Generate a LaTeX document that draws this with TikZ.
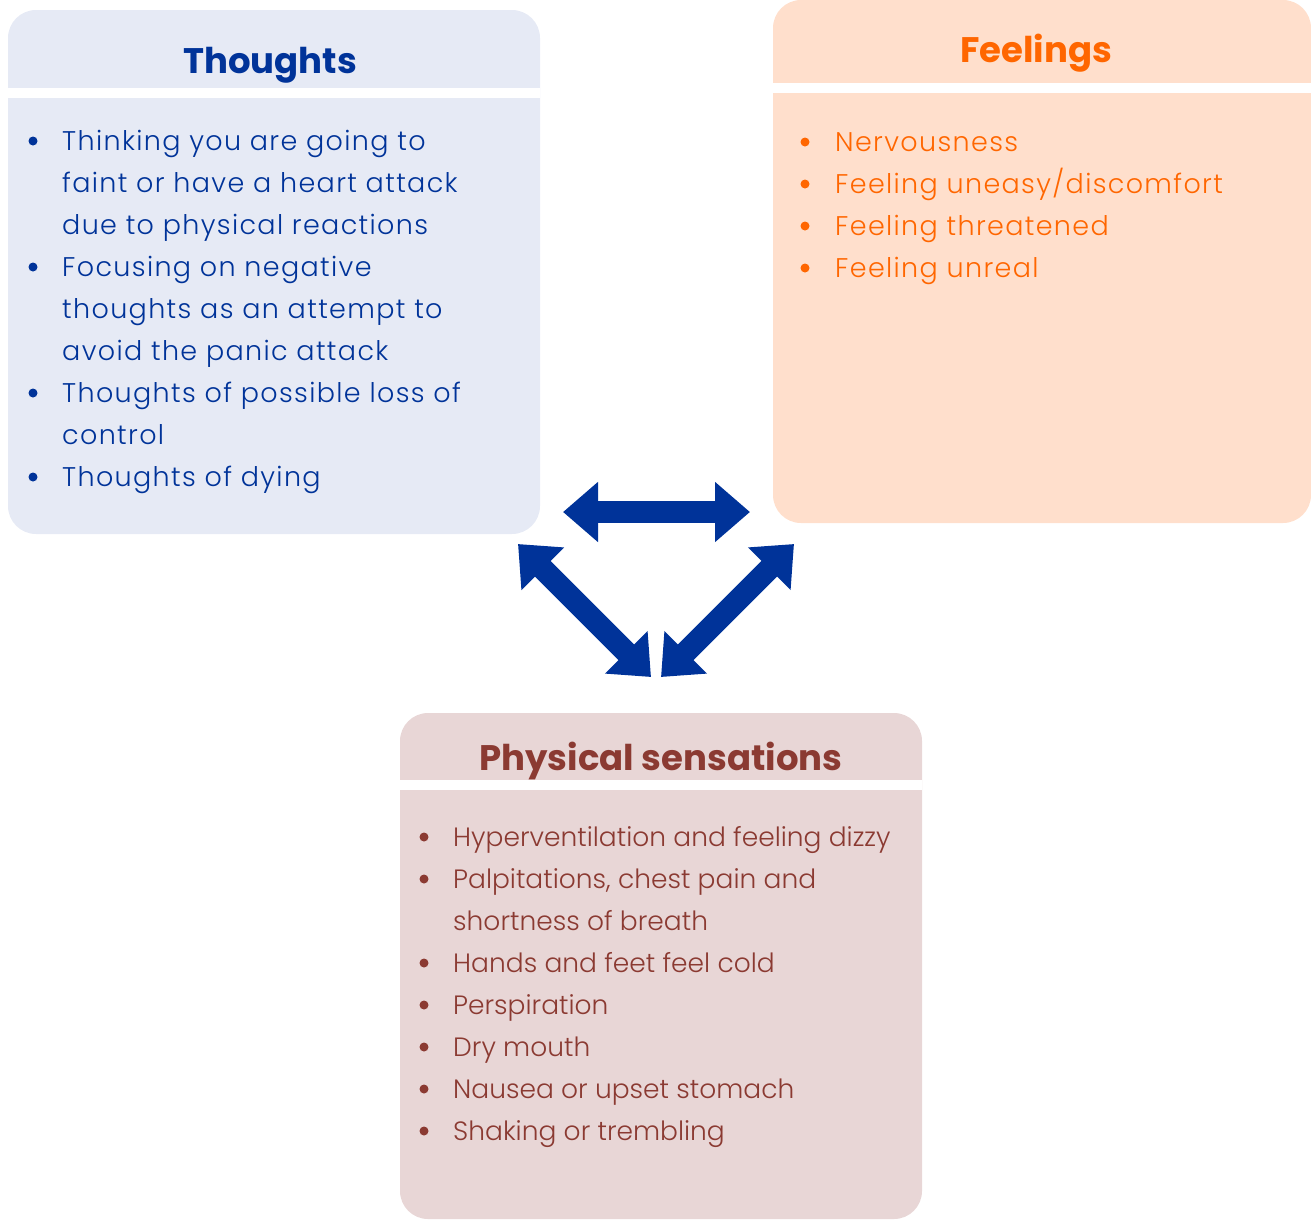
\documentclass[tikz,border=0pt]{standalone}
\usepackage{fontspec}
\setmainfont{Poppins}
\newfontfamily\lightfont{Poppins Light}
\newfontfamily\spacedfont[LetterSpace=5]{Poppins Light}
\usetikzlibrary{arrows.meta}
\definecolor{thfill}{HTML}{E6EAF5}
\definecolor{thtext}{HTML}{003399}
\definecolor{fefill}{HTML}{FFDFCC}
\definecolor{fetext}{HTML}{FF6600}
\definecolor{phfill}{HTML}{E8D6D6}
\definecolor{phtext}{HTML}{8B3A32}
\definecolor{arrowblue}{HTML}{003399}
\tikzset{
  box/.style={rounded corners=28pt, inner sep=0pt, draw=none},
  stripe/.style={fill=white, draw=none},
  title/.style={font=\fontsize{35.5}{40}\selectfont\bfseries, inner sep=0pt},
  item/.style={anchor=base west, inner sep=0pt, font=\fontsize{26.5}{40}\selectfont\lightfont},
  sitem/.style={anchor=base west, inner sep=0pt, font=\fontsize{27}{40}\selectfont\spacedfont},
  bigarrow/.style={draw=arrowblue, line width=22pt, {Triangle[length=35pt,width=58pt]}-{Triangle[length=35pt,width=58pt]}}
}
\begin{document}
\begin{tikzpicture}[x=1pt,y=-1pt]
\useasboundingbox (0,0) rectangle (1311,1219);
% boxes
\node[box, fill=thfill, minimum width=532pt, minimum height=524pt] (thoughts) at (274,272) {};
\node[box, fill=fefill, minimum width=538pt, minimum height=523pt] (feelings) at (1042,261.5) {};
\node[box, fill=phfill, minimum width=522pt, minimum height=506pt] (physical) at (661,966) {};
% white stripes under headers
\fill[stripe] (8,88) rectangle (540,98);
\fill[stripe] (773,83) rectangle (1311,93);
\fill[stripe] (400,780) rectangle (922,790);
% titles
\node[title, text=thtext] (thtitle) at (270,65) {Thoughts};
\node[title, text=fetext] (fetitle) at (1036,53) {Feelings};
\node[title, text=phtext] (phtitle) at (661,761) {Physical sensations};
% Thoughts items
\begin{scope}[every node/.style={sitem, text=thtext}]
\node (t1) at (62,150) {Thinking you are going to};
\node (t2) at (62,192) {faint or have a heart attack};
\node (t3) at (62,234) {due to physical reactions};
\node (t4) at (62,276) {Focusing on negative};
\node (t5) at (62,318) {thoughts as an attempt to};
\node (t6) at (62,360) {avoid the panic attack};
\node (t7) at (62,402) {Thoughts of possible loss of};
\node (t8) at (62,444) {control};
\node (t9) at (62,486) {Thoughts of dying};
\end{scope}
\foreach \y in {141,267,393,477} \fill[thtext] (33,\y) circle (4.5pt);
% Feelings items
\begin{scope}[every node/.style={sitem, text=fetext}]
\node (f1) at (835,151) {Nervousness};
\node (f2) at (835,193) {Feeling uneasy/discomfort};
\node (f3) at (835,235) {Feeling threatened};
\node (f4) at (835,277) {Feeling unreal};
\end{scope}
\foreach \y in {142,184,226,268} \fill[fetext] (805,\y) circle (4.5pt);
% Physical items
\begin{scope}[every node/.style={item, text=phtext}]
\node (p1) at (453,846) {Hyperventilation and feeling dizzy};
\node (p2) at (453,888) {Palpitations, chest pain and};
\node (p3) at (453,930) {shortness of breath};
\node (p4) at (453,972) {Hands and feet feel cold};
\node (p5) at (453,1014) {Perspiration};
\node (p6) at (453,1056) {Dry mouth};
\node (p7) at (453,1098) {Nausea or upset stomach};
\node (p8) at (453,1140) {Shaking or trembling};
\end{scope}
\foreach \y in {837,879,963,1005,1047,1089,1131} \fill[phtext] (424,\y) circle (4.5pt);
% arrows
\coordinate (hL) at (563,512);
\coordinate (hR) at (750,512);
\coordinate (dlT) at (518,544);
\coordinate (dlB) at (651,677);
\coordinate (drT) at (794,544);
\coordinate (drB) at (661,677);
\draw[bigarrow] (hL) -- (hR);
\draw[bigarrow] (dlT) -- (dlB);
\draw[bigarrow] (drT) -- (drB);
\end{tikzpicture}
\end{document}
